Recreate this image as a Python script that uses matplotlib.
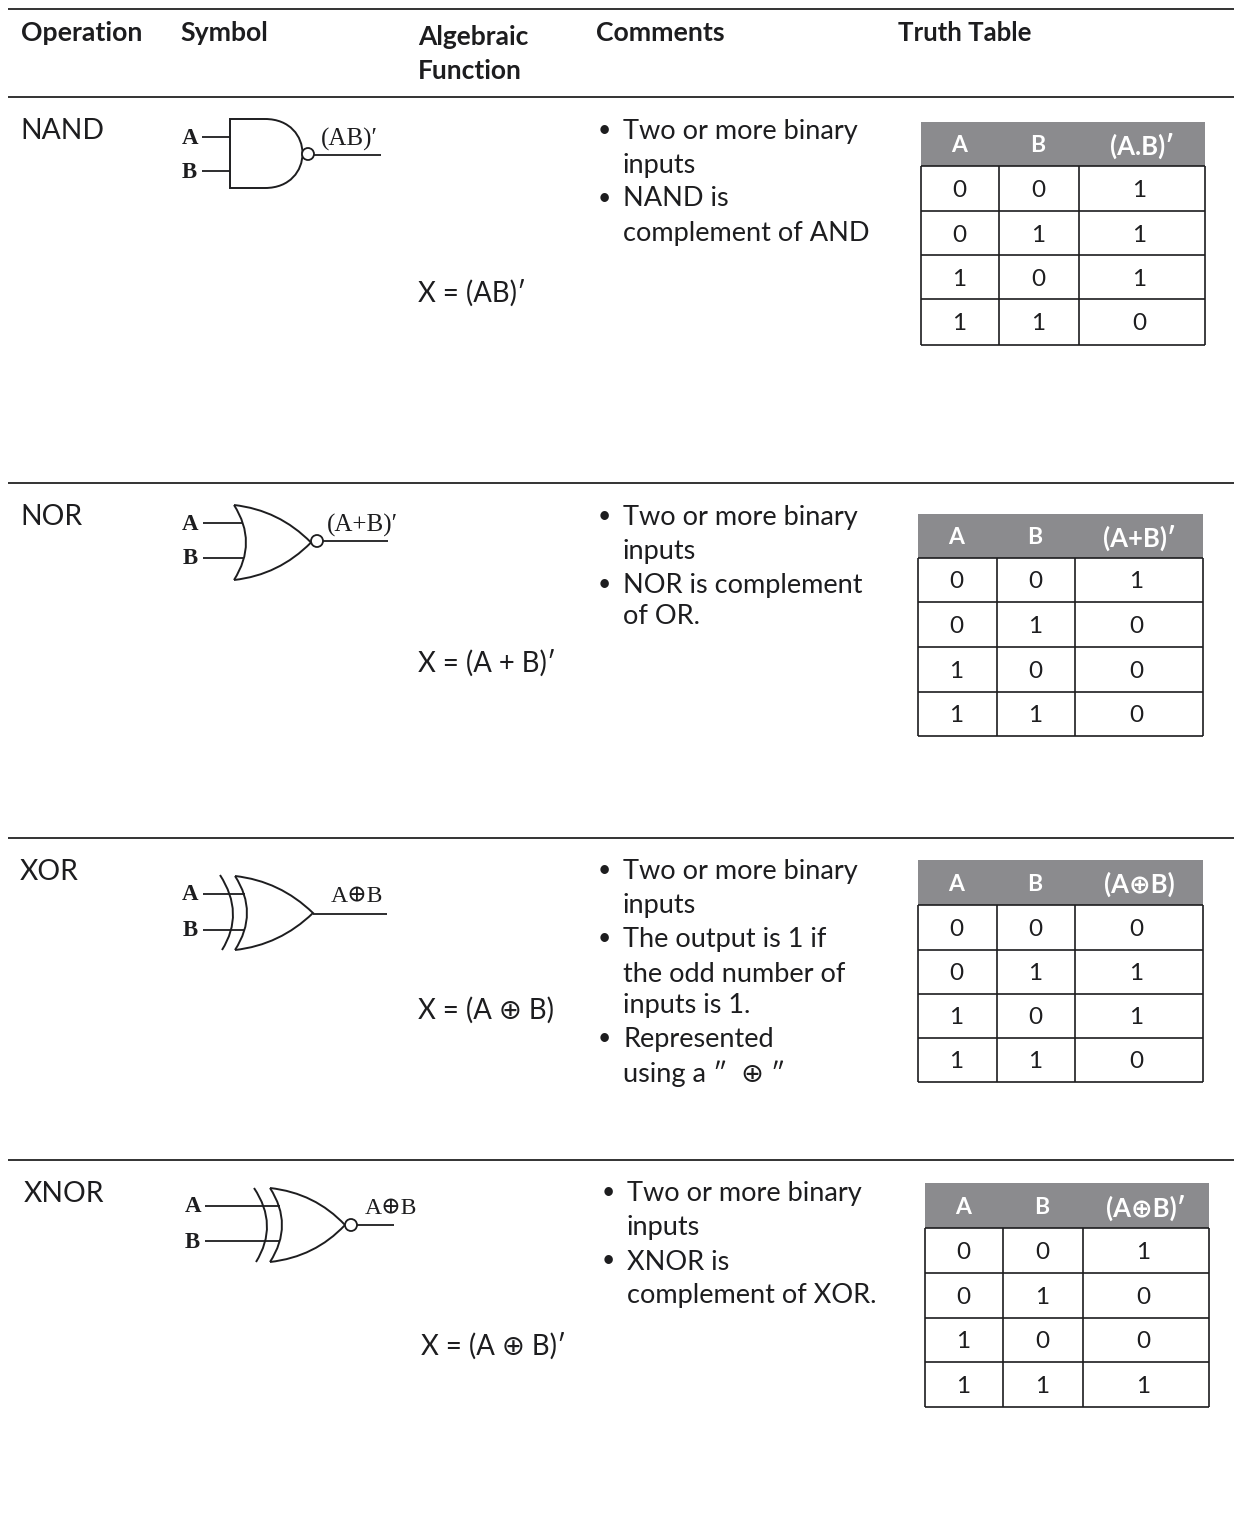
import matplotlib
matplotlib.use("Agg")
import matplotlib.pyplot as plt
from matplotlib.path import Path
from matplotlib.patches import PathPatch, Rectangle, Circle

SANS = ["Lato", "DejaVu Sans"]
SERIF = ["Liberation Serif", "DejaVu Serif"]
INK = "#1d1d1f"

headers = ["Operation", "Symbol", "Algebraic\nFunction", "Comments", "Truth Table"]
operations = ["NAND", "NOR", "XOR", "XNOR"]
gate_outputs = ["(AB)′", "(A+B)′", "A⊕B", "A⊕B"]
functions = ["X = (AB)′", "X = (A + B)′", "X = (A ⊕ B)", "X = (A ⊕ B)′"]
comments = [
    ["•Two or more binary", "inputs", "•NAND is", "complement of AND"],
    ["•Two or more binary", "inputs", "•NOR is complement", "of OR."],
    ["•Two or more binary", "inputs", "•The output is 1 if", "the odd number of",
     "inputs is 1.", "•Represented", "using a ″  ⊕ ″"],
    ["•Two or more binary", "inputs", "•XNOR is", "complement of XOR."],
]
truth_headers = ["(A.B)′", "(A+B)′", "(A⊕B)", "(A⊕B)′"]
col_a = [0, 0, 1, 1]
col_b = [0, 1, 0, 1]
truth_out = [[1, 1, 1, 0], [1, 0, 0, 0], [0, 1, 1, 0], [1, 0, 0, 1]]

# layout (pixels)
rule_y = [9, 97, 483, 838, 1160]
op_pos = [(20, 131), (20, 517), (20, 872), (24, 1194)]
func_pos = [(418, 293), (418, 663), (418, 1010), (421, 1346)]
comment_x = [(604, 623), (604, 623), (604, 623), (608, 627)]
comment_y = [[131, 165, 199, 233], [517, 551, 585, 617],
             [872, 906, 940, 974, 1006, 1040, 1074], [1194, 1228, 1262, 1296]]
table_x = [(921, 999, 1079, 1205), (918, 997, 1075, 1203),
           (918, 997, 1075, 1203), (925, 1003, 1083, 1209)]
table_y = [(122, 166, 211, 255, 299, 345), (514, 558, 602, 647, 692, 736),
           (860, 905, 950, 994, 1038, 1082), (1183, 1228, 1273, 1318, 1362, 1407)]

fig = plt.figure(figsize=(12.34, 15.19), dpi=100, facecolor="white")
ax = fig.add_axes([0, 0, 1, 1])
ax.set_xlim(0, 1234)
ax.set_ylim(1519, 0)
ax.axis("off")


def T(x, y, s, size=19.5, ha="left", family=SANS, weight="normal", color=INK):
    ax.text(x, y, s, fontsize=size, ha=ha, va="center", family=family,
            weight=weight, color=color)


def seg(x0, y0, x1, y1, lw=1.3):
    ax.plot([x0, x1], [y0, y1], color=INK, lw=lw, solid_capstyle="butt")


def curve(p0, mid, p1, lw=1.4):
    ctrl = (2 * mid[0] - (p0[0] + p1[0]) / 2, 2 * mid[1] - (p0[1] + p1[1]) / 2)
    ax.add_patch(PathPatch(Path([p0, ctrl, p1], [Path.MOVETO, Path.CURVE3, Path.CURVE3]),
                           fc="none", ec=INK, lw=lw))


def or_body(xb, yt, yb, xm, xt):
    ym = (yt + yb) / 2
    curve((xb, yt), (xm, ym), (xb, yb))
    verts = [(xb, yt), (xb + 45, yt + 5), (xt, ym), (xb + 45, yb - 5), (xb, yb)]
    codes = [Path.MOVETO, Path.CURVE3, Path.CURVE3, Path.CURVE3, Path.CURVE3]
    ax.add_patch(PathPatch(Path(verts, codes), fc="none", ec=INK, lw=1.4))


def bubble(x, y, r=6):
    ax.add_patch(Circle((x, y), r, fc="white", ec=INK, lw=1.3, zorder=3))


def pin_labels(xa, ya, xb, yb):
    T(xa, ya, "A", 16.5, "center", SERIF, "bold")
    T(xb, yb, "B", 16.5, "center", SERIF, "bold")


# rules
for i, y in enumerate(rule_y):
    ax.plot([8, 1234], [y, y], color="#333333", lw=1.4, solid_capstyle="butt")

# headers
header_pos = [(21, 33), (180, 33), (418, 53), (596, 33), (898, 33)]
for (x, y), h in zip(header_pos, headers):
    if "\n" in h:
        a, b = h.split("\n")
        T(x, 37, a, 19, weight="bold")
        T(x, 71, b, 19, weight="bold")
    elif h == "Truth Table":
        T(x, y, h, 18.5, weight="bold")
    else:
        T(x, y, h, 19.2, weight="bold")

# operations, functions, comments
for i, op in enumerate(operations):
    T(op_pos[i][0], op_pos[i][1], op, 20.3)
    T(func_pos[i][0], func_pos[i][1], functions[i], 19.8)
    for line, y in zip(comments[i], comment_y[i]):
        if line.startswith("•"):
            T(comment_x[i][0], y - 1, "•", 16.5, "center")
            T(comment_x[i][1], y, line[1:])
        else:
            T(comment_x[i][1], y, line)

# NAND gate
pin_labels(190, 138, 189, 172)
seg(202, 137, 230, 137); seg(202, 171, 230, 171)
ax.add_patch(PathPatch(Path(
    [(265, 119), (230, 119), (230, 188), (265, 188), (315, 188), (315, 119), (265, 119)],
    [Path.MOVETO, Path.LINETO, Path.LINETO, Path.LINETO,
     Path.CURVE4, Path.CURVE4, Path.CURVE4]), fc="none", ec=INK, lw=1.4))
bubble(308, 154)
seg(314, 155, 381, 155)
T(349, 139, gate_outputs[0], 18, "center", SERIF)

# NOR gate
pin_labels(190, 524, 190, 559)
seg(203, 523, 243, 523); seg(203, 558, 243, 558)
or_body(234, 505, 580, 246, 311)
bubble(317, 541)
seg(323, 541, 388, 541)
T(362, 525, gate_outputs[1], 18, "center", SERIF)

# XOR gate
pin_labels(190, 895, 190, 931)
seg(203, 894, 245, 894); seg(203, 930, 245, 930)
or_body(235, 876, 950, 247, 313)
curve((220, 875), (233, 913), (222, 950))
seg(313, 914, 387, 914)
T(357, 896, gate_outputs[2], 17, "center", SERIF)

# XNOR gate
pin_labels(193, 1207, 192, 1242)
seg(205, 1206, 280, 1206); seg(205, 1241, 280, 1241)
or_body(270, 1188, 1262, 282, 345)
curve((254, 1188), (267, 1225), (256, 1262))
bubble(351, 1225)
seg(357, 1225, 394, 1225)
T(391, 1209, gate_outputs[3], 17, "center", SERIF)

# truth tables
for i in range(4):
    xs, ys = table_x[i], table_y[i]
    ax.add_patch(Rectangle((xs[0], ys[0]), xs[3] - xs[0], ys[1] - ys[0], fc="#8b8b8e", ec="none"))
    for y in ys[1:]:
        seg(xs[0], y, xs[3], y, 1.2)
    for x in xs:
        seg(x, ys[1], x, ys[5], 1.2)
    cx = [(xs[j] + xs[j + 1]) / 2 - d for j, d in zip(range(3), (1, 1, 3))]
    y_head = (ys[0] + ys[1]) / 2 + 2
    T(cx[0], y_head, "A", 16.5, "center", SANS, "bold", "white")
    T(cx[1], y_head, "B", 16.5, "center", SANS, "bold", "white")
    T(cx[2] + 3, y_head, truth_headers[i], 18.5, "center", SANS, "bold", "white")
    for r in range(4):
        y = (ys[r + 1] + ys[r + 2]) / 2 + 2
        for c, v in zip(cx, [col_a[r], col_b[r], truth_out[i][r]]):
            T(c, y, str(v), 17.5, "center")

fig.savefig("out.png", dpi=100, facecolor="white")
